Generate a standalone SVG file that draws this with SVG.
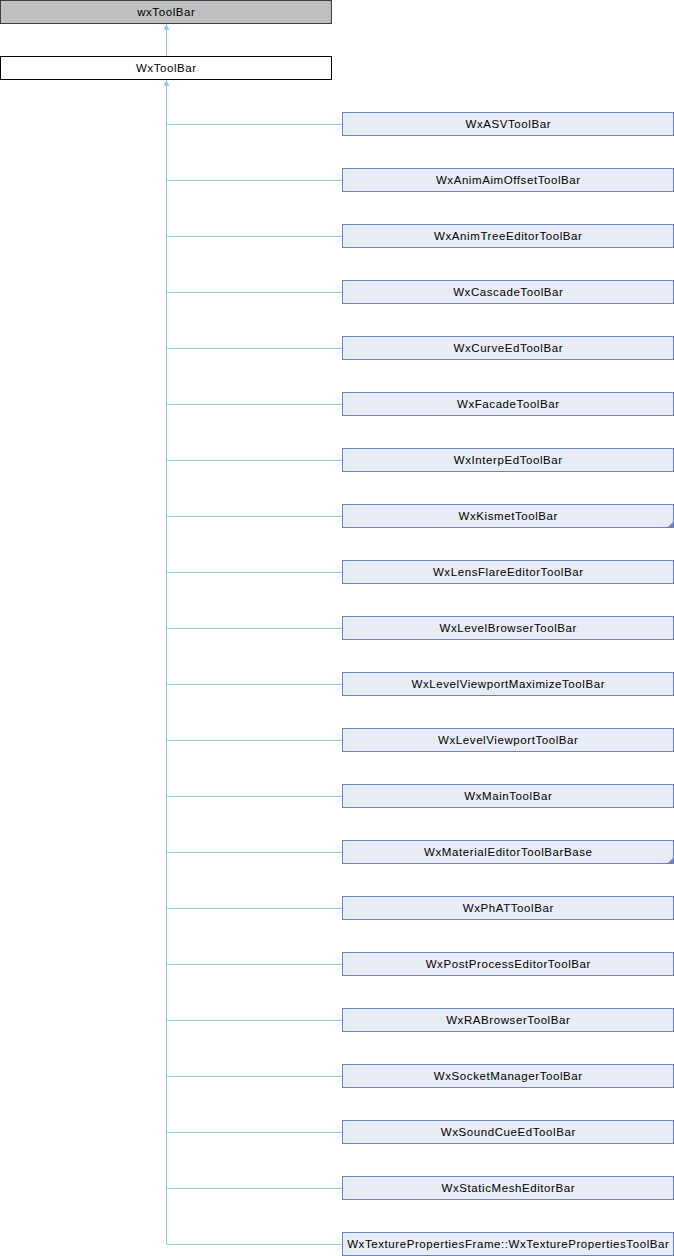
<svg xmlns="http://www.w3.org/2000/svg" width="674" height="1256" viewBox="0 0 674 1256">
<style>
.n rect{fill:#e8ecf5;stroke:#6b82bd;stroke-width:1}
text{font-family:"Liberation Sans",Arial,sans-serif;font-size:11.5px;letter-spacing:0.58px;fill:#000;text-anchor:middle}
.e{stroke:#8ec9ec;stroke-width:1;fill:none}
.ah{fill:#8ec9ec;stroke:none}
.tri{fill:#6b82bd}
</style>
<rect width="674" height="1256" fill="#fff"/>
<g id="connectors">
<line class="e" x1="166.5" y1="28" x2="166.5" y2="56"/>
<polygon class="ah" points="166.5,24 163.5,30 169.5,30"/>
<line class="e" x1="166.5" y1="84" x2="166.5" y2="1244.5"/>
<polygon class="ah" points="166.5,80 163.5,86 169.5,86"/>
<path class="e" d="M166.5 124.5H342M166.5 180.5H342M166.5 236.5H342M166.5 292.5H342M166.5 348.5H342M166.5 404.5H342M166.5 460.5H342M166.5 516.5H342M166.5 572.5H342M166.5 628.5H342M166.5 684.5H342M166.5 740.5H342M166.5 796.5H342M166.5 852.5H342M166.5 908.5H342M166.5 964.5H342M166.5 1020.5H342M166.5 1076.5H342M166.5 1132.5H342M166.5 1188.5H342M166.5 1244.5H342"/>
</g>
<g id="wxToolBar"><rect x="0.5" y="0.5" width="331" height="23" fill="#bfbfbf" stroke="#404040"/><text x="166.3" y="16">wxToolBar</text></g>
<g id="WxToolBar"><rect x="0.5" y="56.5" width="331" height="23" fill="#fff" stroke="#000"/><text x="166.3" y="72">WxToolBar</text></g>
<g id="n0" class="n"><rect x="342.5" y="112.5" width="331" height="23"/><text x="508.3" y="128">WxASVToolBar</text></g>
<g id="n1" class="n"><rect x="342.5" y="168.5" width="331" height="23"/><text x="508.3" y="184">WxAnimAimOffsetToolBar</text></g>
<g id="n2" class="n"><rect x="342.5" y="224.5" width="331" height="23"/><text x="508.3" y="240">WxAnimTreeEditorToolBar</text></g>
<g id="n3" class="n"><rect x="342.5" y="280.5" width="331" height="23"/><text x="508.3" y="296">WxCascadeToolBar</text></g>
<g id="n4" class="n"><rect x="342.5" y="336.5" width="331" height="23"/><text x="508.3" y="352">WxCurveEdToolBar</text></g>
<g id="n5" class="n"><rect x="342.5" y="392.5" width="331" height="23"/><text x="508.3" y="408">WxFacadeToolBar</text></g>
<g id="n6" class="n"><rect x="342.5" y="448.5" width="331" height="23"/><text x="508.3" y="464">WxInterpEdToolBar</text></g>
<g id="n7" class="n"><rect x="342.5" y="504.5" width="331" height="23"/><text x="508.3" y="520">WxKismetToolBar</text><polygon class="tri" points="674,521 674,528 667,528"/></g>
<g id="n8" class="n"><rect x="342.5" y="560.5" width="331" height="23"/><text x="508.3" y="576">WxLensFlareEditorToolBar</text></g>
<g id="n9" class="n"><rect x="342.5" y="616.5" width="331" height="23"/><text x="508.3" y="632">WxLevelBrowserToolBar</text></g>
<g id="n10" class="n"><rect x="342.5" y="672.5" width="331" height="23"/><text x="508.3" y="688">WxLevelViewportMaximizeToolBar</text></g>
<g id="n11" class="n"><rect x="342.5" y="728.5" width="331" height="23"/><text x="508.3" y="744">WxLevelViewportToolBar</text></g>
<g id="n12" class="n"><rect x="342.5" y="784.5" width="331" height="23"/><text x="508.3" y="800">WxMainToolBar</text></g>
<g id="n13" class="n"><rect x="342.5" y="840.5" width="331" height="23"/><text x="508.3" y="856">WxMaterialEditorToolBarBase</text><polygon class="tri" points="674,857 674,864 667,864"/></g>
<g id="n14" class="n"><rect x="342.5" y="896.5" width="331" height="23"/><text x="508.3" y="912">WxPhATToolBar</text></g>
<g id="n15" class="n"><rect x="342.5" y="952.5" width="331" height="23"/><text x="508.3" y="968">WxPostProcessEditorToolBar</text></g>
<g id="n16" class="n"><rect x="342.5" y="1008.5" width="331" height="23"/><text x="508.3" y="1024">WxRABrowserToolBar</text></g>
<g id="n17" class="n"><rect x="342.5" y="1064.5" width="331" height="23"/><text x="508.3" y="1080">WxSocketManagerToolBar</text></g>
<g id="n18" class="n"><rect x="342.5" y="1120.5" width="331" height="23"/><text x="508.3" y="1136">WxSoundCueEdToolBar</text></g>
<g id="n19" class="n"><rect x="342.5" y="1176.5" width="331" height="23"/><text x="508.3" y="1192">WxStaticMeshEditorBar</text></g>
<g id="n20" class="n"><rect x="342.5" y="1232.5" width="331" height="23"/><text x="508.3" y="1248">WxTexturePropertiesFrame::WxTexturePropertiesToolBar</text></g>
</svg>
